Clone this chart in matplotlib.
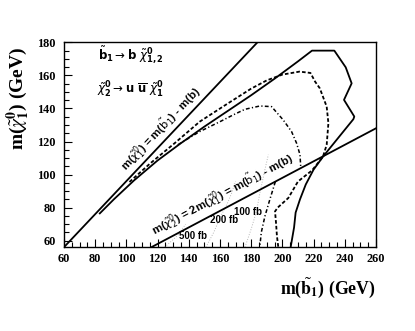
import numpy as np
import matplotlib
matplotlib.use("Agg")
import matplotlib.pyplot as plt
from matplotlib.ticker import MultipleLocator

# limites cinematiques (droites)
kin1_x = [60, 184]
kin1_y = [56, 180]
kin2_x = [116, 260]
kin2_y = [56, 128]

# contour trait plein
sol_x = [83, 92, 105, 120, 135, 150, 165, 180, 195, 210, 219, 233.3, 240.6, 244.4, 239.5,
         246.1, 245.5, 226, 220, 215, 211.3, 208.5, 207.5, 205.3]
sol_y = [76.5, 85, 96.5, 108.5, 119, 129, 138.5, 148, 158, 168.5, 175, 175, 164.9, 155.2, 145.2,
         135.1, 133.5, 110.8, 103, 94, 85, 77, 68, 56]

# contour tirets
das_x = [102, 115, 131, 147, 165, 180, 190, 200, 211, 218, 221, 224, 228.4, 229.5, 228.4,
         226, 219, 210, 203.8, 197, 195.3, 196, 196.5, 197.4]
das_y = [95.5, 106.5, 119, 132, 143, 152, 157, 160.5, 162.3, 161.5, 156.2, 152.2, 141.1, 131.1, 118,
         110.8, 102.5, 95.8, 85.8, 80, 77.7, 70, 63, 56]

# contour tiret-point (haut et bas)
dd_x = [133, 147, 160, 168.5, 176, 185.6, 193.1, 200.5, 205.9, 209.1, 211.3, 211.8]
dd_y = [118, 126, 132, 136.1, 139.5, 141.5, 141.1, 133.1, 126, 119, 112, 104]
ddl_x = [195.5, 192, 188.8, 186.5, 185.5]
ddl_y = [95.7, 85, 74.7, 65, 56]

# sections efficaces (gris)
g500_x = [124.5, 129, 133.3, 138]
g500_y = [56, 59.8, 63.6, 70]
g200_x = [151, 156, 161, 164.5, 167.5, 170]
g200_y = [56, 65, 75.7, 82, 88.8, 96]
g100_x = [176, 180, 183.5, 185.6, 188.8, 191]
g100_y = [56, 67, 78, 88.9, 102.9, 112]
xs_labels = ["500 fb", "200 fb", "100 fb"]
xs_lab_x = [142.7, 162.7, 178]
xs_lab_y = [62.6, 72.7, 77.1]

fig = plt.figure(figsize=(4.15, 3.31), dpi=100)
ax = fig.add_axes([0.154, 0.253, 0.752, 0.619])

for gx, gy in [(g500_x, g500_y), (g200_x, g200_y), (g100_x, g100_y)]:
    ax.plot(gx, gy, ':', color='#b8b8b8', lw=0.7)

ax.plot(kin1_x, kin1_y, '-', color='k', lw=1.3)
ax.plot(kin2_x, kin2_y, '-', color='k', lw=1.3)
ax.plot(sol_x, sol_y, '-', color='k', lw=1.3)
ax.plot(das_x, das_y, color='k', lw=1.3, linestyle=(0, (2, 1.2)))
ax.plot(dd_x, dd_y, color='k', lw=1.1, linestyle=(0, (2.5, 1.5, 0.8, 1.5)))
ax.plot(ddl_x, ddl_y, color='k', lw=1.1, linestyle=(0, (2.5, 1.5, 0.8, 1.5)))

for lab, lx, ly in zip(xs_labels, xs_lab_x, xs_lab_y):
    ax.text(lx, ly, lab, fontsize=7, fontweight='bold', family='Liberation Sans',
            ha='center', va='center')

ax.text(82, 172.3, r'$\tilde{\mathbf{b}}_\mathbf{1} \rightarrow \mathbf{b}\ \tilde{\chi}^\mathbf{0}_\mathbf{1,2}$',
        fontsize=8.5, math_fontfamily='dejavusans', ha='left', va='center')
ax.text(81.4, 151.2, r'$\tilde{\chi}^\mathbf{0}_\mathbf{2} \rightarrow \mathbf{u}\ \overline{\mathbf{u}}\ \tilde{\chi}^\mathbf{0}_\mathbf{1}$',
        fontsize=8.5, math_fontfamily='dejavusans', ha='left', va='center')

ax.text(122.5, 127.5, r'm($\tilde{\chi}^0_1$) = m($\tilde{\mathrm{b}}_1$) - m(b)', rotation=46.5,
        fontsize=8.2, fontweight='bold', family='Liberation Sans', math_fontfamily='dejavusans',
        ha='center', va='center', rotation_mode='anchor')
ax.text(162, 88, r'm($\tilde{\chi}^0_2$) = 2m($\tilde{\chi}^0_1$) = m($\tilde{\mathrm{b}}_1$) - m(b)',
        rotation=28, fontsize=8.2, fontweight='bold', family='Liberation Sans',
        math_fontfamily='dejavusans', ha='center', va='center', rotation_mode='anchor')

ax.set_xlim(60, 260)
ax.set_ylim(56, 180)
ax.xaxis.set_major_locator(MultipleLocator(20))
ax.xaxis.set_minor_locator(MultipleLocator(5))
ax.yaxis.set_major_locator(MultipleLocator(20))
ax.yaxis.set_minor_locator(MultipleLocator(5))
ax.tick_params(which='both', direction='in', top=False, right=False, width=0.8)
ax.tick_params(which='major', length=6)
ax.tick_params(which='minor', length=3.5)
ax.tick_params(axis='x', pad=4)
ax.tick_params(axis='y', pad=6)
for lab in ax.get_xticklabels() + ax.get_yticklabels():
    lab.set_family('Liberation Serif')
    lab.set_fontweight('bold')
    lab.set_fontsize(8.8)
for sp in ax.spines.values():
    sp.set_linewidth(1.0)

ax.text(1.0, -0.198, r'm($\tilde{\mathbf{b}}_\mathbf{1}$) (GeV)', transform=ax.transAxes,
        fontsize=12.8, fontweight='bold', family='Liberation Serif', math_fontfamily='stix',
        ha='right', va='center')
ax.text(-0.147, 0.728, r'm($\tilde{\chi}^\mathbf{0}_\mathbf{1}$) (GeV)', transform=ax.transAxes,
        fontsize=14, fontweight='bold', family='Liberation Serif', math_fontfamily='stix',
        rotation=90, ha='center', va='center')

fig.savefig('out.png', dpi=100)
